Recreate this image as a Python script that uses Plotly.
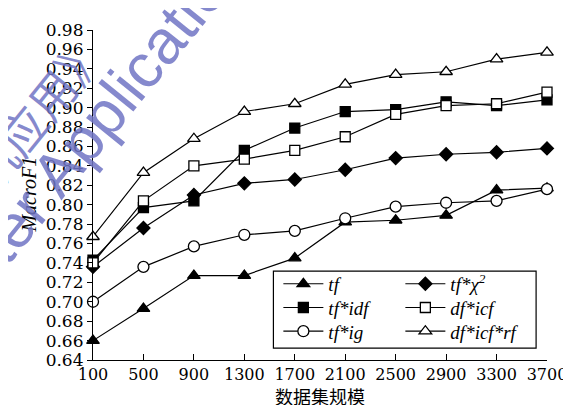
import plotly.graph_objects as go

sizes = [100, 500, 900, 1300, 1700, 2100, 2500, 2900, 3300, 3700]
tick_labels = [str(s) for s in sizes]
y_ticks = [0.64, 0.66, 0.68, 0.70, 0.72, 0.74, 0.76, 0.78, 0.80, 0.82, 0.84,
           0.86, 0.88, 0.90, 0.92, 0.94, 0.96, 0.98]

tf = [0.660, 0.693, 0.727, 0.727, 0.745, 0.782, 0.784, 0.789, 0.815, 0.817]
tf_chi2 = [0.736, 0.776, 0.810, 0.822, 0.826, 0.836, 0.848, 0.852, 0.854, 0.858]
tf_idf = [0.743, 0.797, 0.804, 0.856, 0.879, 0.896, 0.898, 0.906, 0.902, 0.908]
tf_ig = [0.700, 0.736, 0.757, 0.769, 0.773, 0.786, 0.798, 0.802, 0.804, 0.816]
df_icf = [0.740, 0.804, 0.840, 0.847, 0.856, 0.870, 0.893, 0.902, 0.904, 0.916]
df_icf_rf = [0.767, 0.833, 0.868, 0.896, 0.904, 0.924, 0.934, 0.937, 0.950, 0.957]

x_title = "数据集规模"
y_title = "MacroF1"

# name, values, symbol, fill, size, legend row
series = [
    ("tf", tf, "triangle-up", "black", 11, "legend"),
    ("tf*χ<sup>2</sup>", tf_chi2, "diamond", "black", 10, "legend"),
    ("tf*idf", tf_idf, "square", "black", 10, "legend2"),
    ("tf*ig", tf_ig, "circle", "white", 11, "legend3"),
    ("df*icf", df_icf, "square", "white", 10, "legend2"),
    ("df*icf*rf", df_icf_rf, "triangle-up", "white", 11, "legend3"),
]

fig = go.Figure()
for name, vals, sym, fill, sz, leg in series:
    fig.add_trace(go.Scatter(
        x=sizes, y=vals, name=name, mode="lines+markers",
        line=dict(color="black", width=1.2),
        marker=dict(symbol=sym, size=sz, color=fill,
                    line=dict(color="black", width=1.3)),
        cliponaxis=False, legend=leg,
    ))

W, H = 571, 405
ml, mr, mt, mb = 85, 28, 18, 53
pw, ph = W - ml - mr, H - mt - mb

def px(x):
    return (x - ml) / pw

def py(y):
    return (H - mb - y) / ph

leg_font = dict(family="Liberation Serif", size=19, color="black", style="italic")

def leg(ycenter):
    return dict(x=px(272), y=py(ycenter), xanchor="left", yanchor="middle",
                orientation="h", bgcolor="rgba(0,0,0,0)", borderwidth=0,
                font=leg_font, itemwidth=40, entrywidth=67, entrywidthmode="pixels")

fig.update_layout(
    width=W, height=H,
    margin=dict(l=ml, r=mr, t=mt, b=mb),
    paper_bgcolor="white", plot_bgcolor="white",
    showlegend=True,
    legend=leg(275),
    legend2=leg(299),
    legend3=leg(323),
    shapes=[dict(type="rect", xref="paper", yref="paper",
                 x0=px(267), x1=px(532), y0=py(340), y1=py(262),
                 line=dict(color="black", width=1.2), fillcolor="rgba(0,0,0,0)")],
    font=dict(family="DejaVu Serif", color="black"),
)

fig.update_xaxes(
    range=[100, 3700], tickvals=sizes, ticktext=tick_labels,
    showline=True, linecolor="black", linewidth=1.2, mirror=False,
    ticks="inside", ticklen=6, tickcolor="black", tickwidth=1.2,
    showgrid=False, zeroline=False,
    tickfont=dict(family="DejaVu Serif", size=16, color="black"),
)
fig.update_yaxes(
    range=[0.64, 0.98], tickvals=y_ticks, tickformat=".2f",
    showline=True, linecolor="black", linewidth=1.2, mirror=False,
    ticks="outside", ticklen=5, tickcolor="black", tickwidth=1.2,
    showgrid=False, zeroline=False,
    tickfont=dict(family="DejaVu Serif", size=17, color="black"),
)

# axis titles
fig.add_annotation(text=x_title, xref="paper", yref="paper", x=0.5, y=py(388),
                   xanchor="center", yanchor="middle", showarrow=False,
                   font=dict(family="Noto Sans CJK SC", size=18, color="black"))
fig.add_annotation(text=y_title, xref="paper", yref="paper", x=px(20), y=py(185),
                   xanchor="center", yanchor="middle", showarrow=False, textangle=-90,
                   font=dict(family="Liberation Serif", size=20, color="black", style="italic"))

# watermark
wm_color = "rgba(112,116,196,0.85)"
fig.add_annotation(text="Journal of Computer Applications", xref="paper", yref="paper",
                   x=px(-40), y=py(272), xanchor="center", yanchor="middle",
                   showarrow=False, textangle=-51,
                   font=dict(family="Liberation Sans", size=62, color=wm_color))
fig.add_annotation(text="《计算机应用》", xref="paper", yref="paper",
                   x=px(-16), y=py(155), xanchor="center", yanchor="middle",
                   showarrow=False, textangle=-51,
                   font=dict(family="Noto Sans CJK SC", size=46, color=wm_color))

fig.write_html("out.html")
